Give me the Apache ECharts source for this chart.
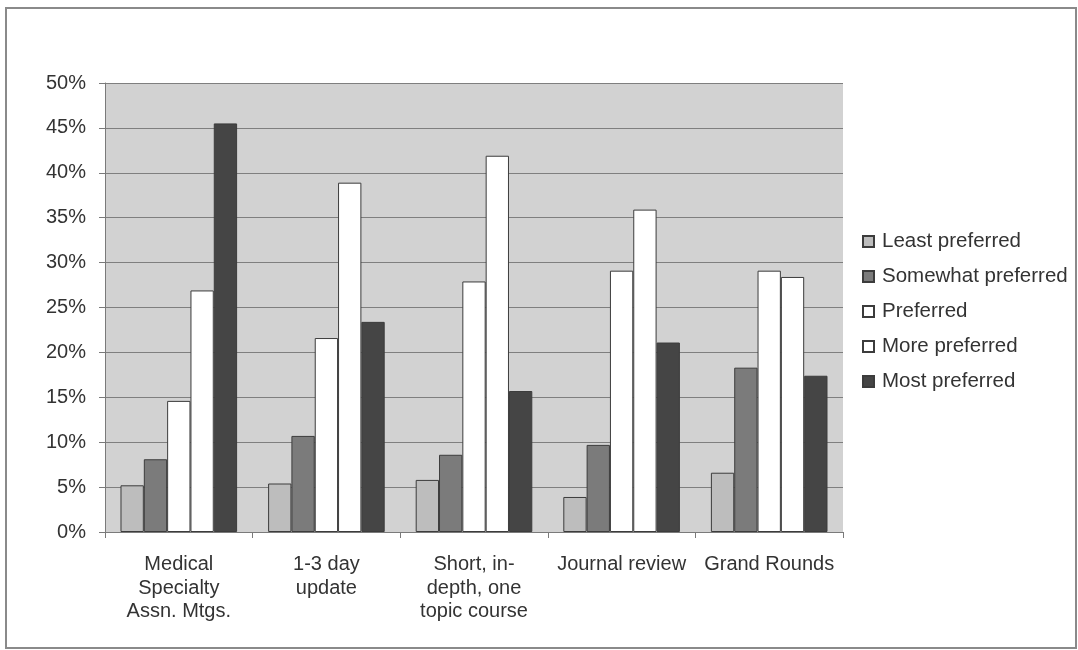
<!DOCTYPE html>
<html>
<head>
<meta charset="utf-8">
<script src="https://cdn.jsdelivr.net/npm/echarts@6/dist/echarts.min.js"></script>
<style>
html,body{margin:0;padding:0;background:#fff;}
#chart{width:1078px;height:650px;}
</style>
</head>
<body>
<div id="chart"></div>
<script>
var categories = ['Medical\nSpecialty\nAssn. Mtgs.', '1-3 day\nupdate', 'Short, in-\ndepth, one\ntopic course', 'Journal review', 'Grand Rounds'];
var seriesNames = ['Least preferred', 'Somewhat preferred', 'Preferred', 'More preferred', 'Most preferred'];
var leastPreferred = [5.2, 5.4, 5.8, 3.9, 6.6];
var somewhatPreferred = [8.1, 10.7, 8.6, 9.7, 18.3];
var preferred = [14.6, 21.6, 27.9, 29.1, 29.1];
var morePreferred = [26.9, 38.9, 41.9, 35.9, 28.4];
var mostPreferred = [45.5, 23.4, 15.7, 21.1, 17.4];
var yMin = 0, yMax = 50, yInterval = 5;

var seriesData = [leastPreferred, somewhatPreferred, preferred, morePreferred, mostPreferred];
var colors = ['#bdbdbd', '#7b7b7b', '#ffffff', '#ffffff', '#454545'];

var chart = echarts.init(document.getElementById('chart'));
var font = 'Liberation Sans, Arial, sans-serif';
chart.setOption({
  animation: false,
  backgroundColor: '#ffffff',
  graphic: [{
    type: 'rect',
    shape: {x: 6, y: 8, width: 1070, height: 640},
    style: {fill: 'none', stroke: '#8a8a8a', lineWidth: 2},
    silent: true
  }],
  grid: {left: 105, top: 83, width: 738, height: 449, show: true, backgroundColor: '#d2d2d2', borderWidth: 0},
  legend: {
    orient: 'vertical',
    left: 862,
    top: 231,
    padding: 0,
    itemWidth: 11,
    itemHeight: 11,
    itemGap: 15,
    icon: 'rect',
    textStyle: {fontFamily: font, fontSize: 20.5, color: '#333', lineHeight: 20, padding: [0, 0, 0, 3]},
    itemGap: 14,
    data: seriesNames
  },
  xAxis: {
    type: 'category',
    data: categories,
    axisLine: {lineStyle: {color: '#7a7a7a', width: 1}},
    axisTick: {show: true, length: 6, lineStyle: {color: '#7a7a7a'}},
    axisLabel: {interval: 0, fontFamily: font, fontSize: 20, color: '#333', lineHeight: 23.5, margin: 21, align: 'center'}
  },
  yAxis: {
    type: 'value',
    min: yMin,
    max: yMax,
    interval: yInterval,
    axisLine: {show: true, lineStyle: {color: '#7a7a7a', width: 1}},
    axisTick: {show: true, length: 6, lineStyle: {color: '#7a7a7a'}},
    splitLine: {show: true, lineStyle: {color: '#7f7f7f', width: 1}},
    axisLabel: {formatter: '{value}%', fontFamily: font, fontSize: 20, color: '#333', margin: 19}
  },
  series: seriesNames.map(function (name, i) {
    return {
      name: name,
      type: 'bar',
      data: seriesData[i],
      barGap: '0%',
      barCategoryGap: '21%',
      itemStyle: {color: colors[i], borderColor: '#3c3c3c', borderWidth: 1}
    };
  })
});
</script>
</body>
</html>
